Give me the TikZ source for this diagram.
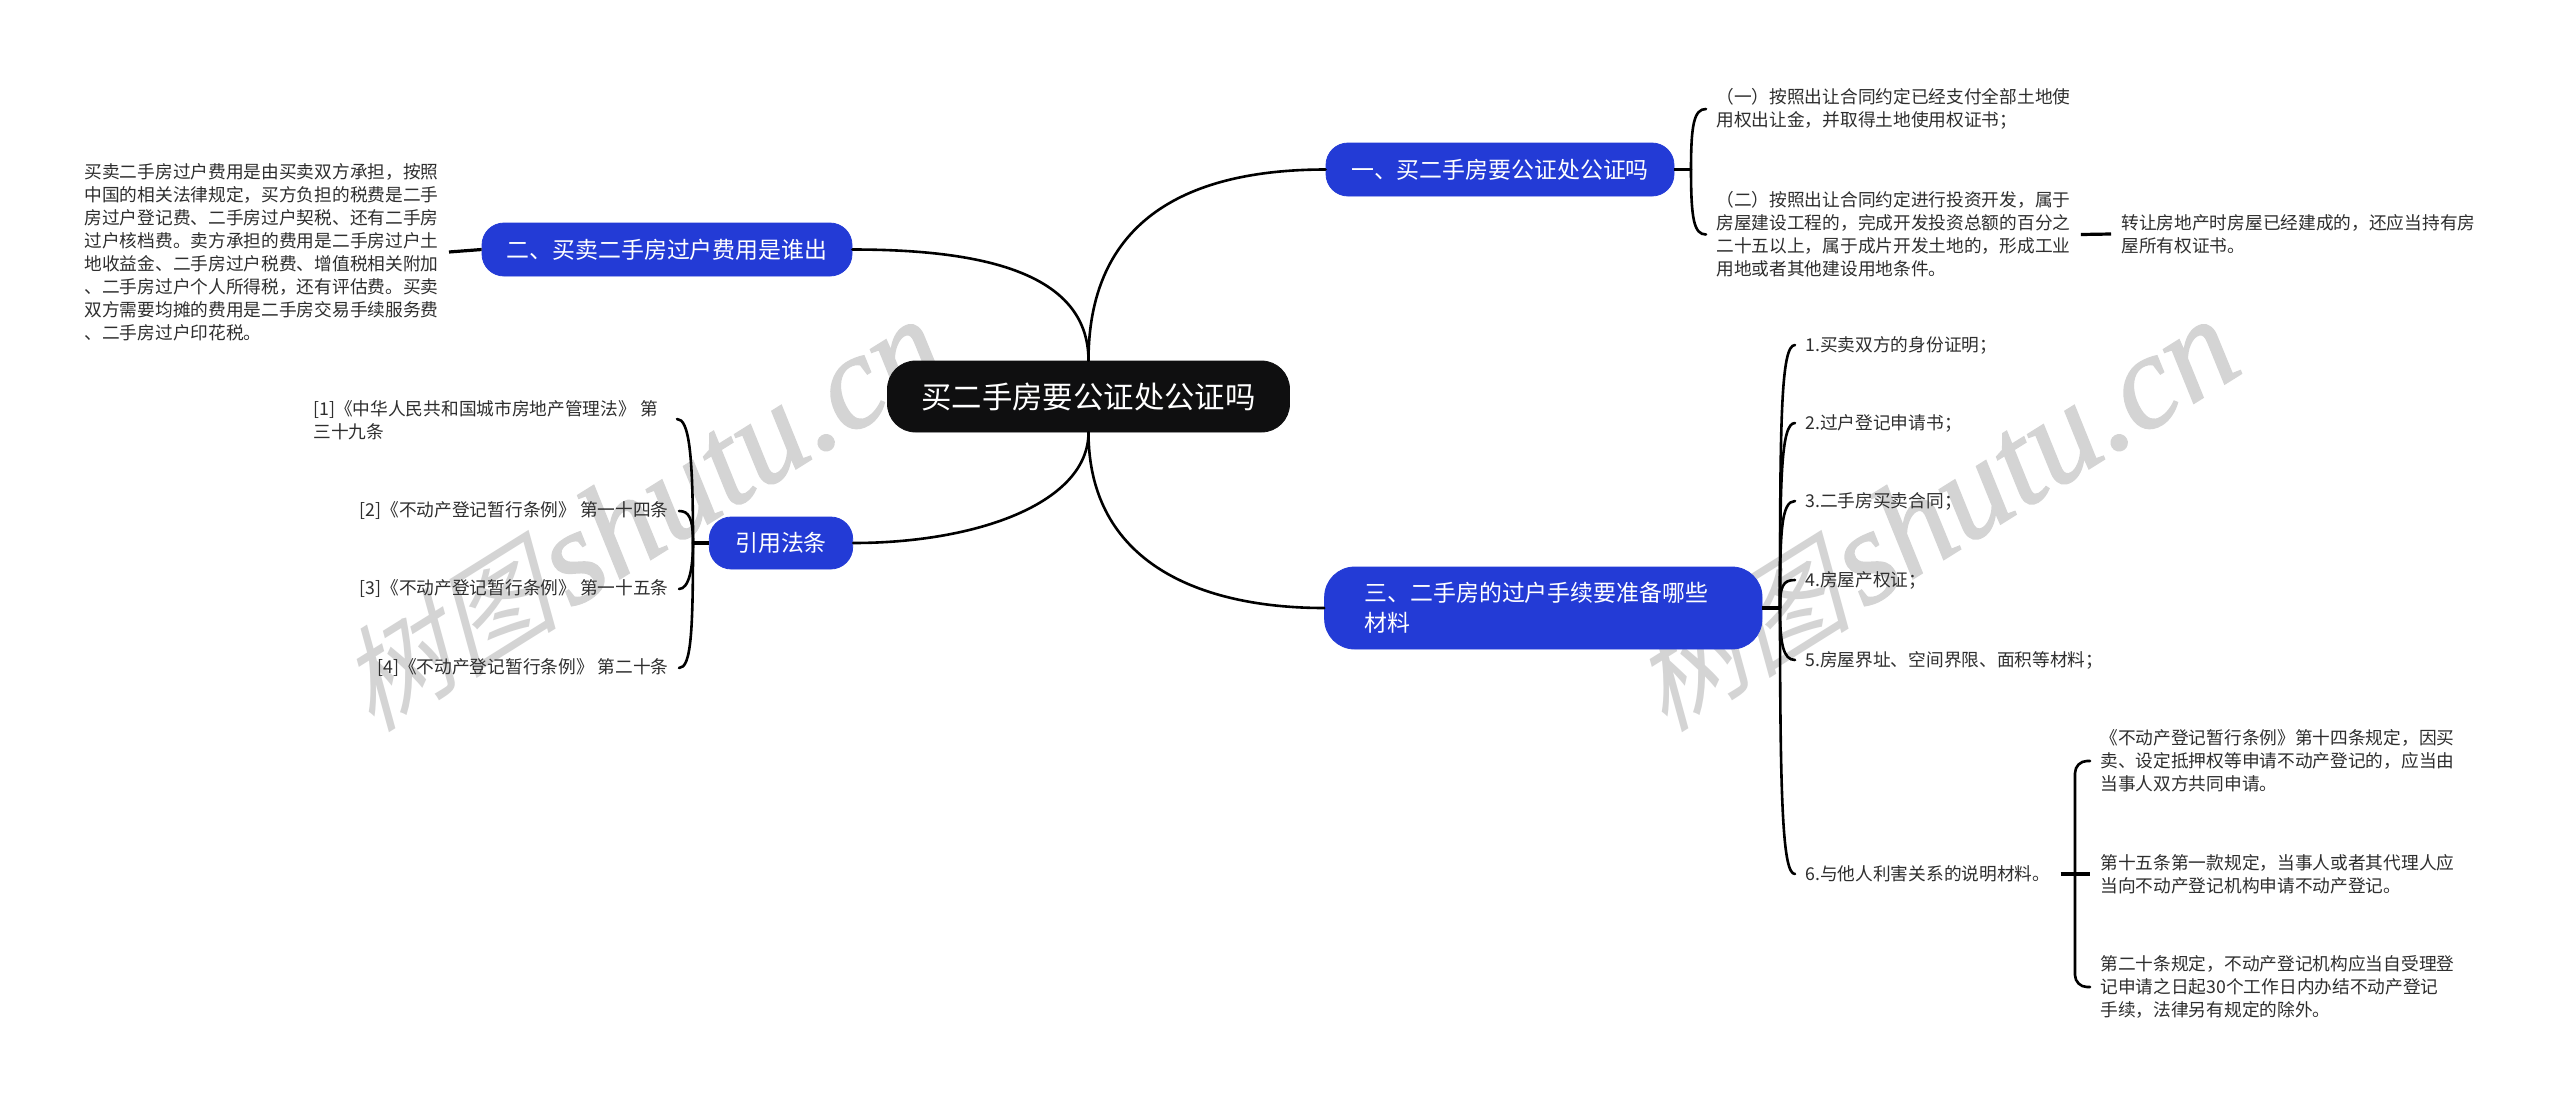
\documentclass[tikz,border=0pt]{standalone}
\usepackage{fontspec}
\setmainfont{Noto Sans CJK SC}
\newfontfamily\wmcjk[FakeSlant=0.3]{Noto Sans CJK SC}
\newfontfamily\wmlat[FakeBold=1.2]{Liberation Serif Italic}
\definecolor{nodeblue}{HTML}{233BD6}
\definecolor{rootblack}{HTML}{0F0F10}
\definecolor{leafgray}{HTML}{2E2E2E}
\definecolor{wmgray}{HTML}{D4D4D4}
\tikzset{
  mainbox/.style={fill=nodeblue,draw=nodeblue,line width=0.4pt,text=white,inner sep=0pt,font=\fontsize{11.45}{15}\selectfont},
  rootbox/.style={fill=rootblack,draw=rootblack,text=white,inner sep=0pt,rounded corners=14pt,minimum width=201pt,minimum height=35.5pt,font=\fontsize{15.2}{18}\selectfont},
  leaf/.style={inner xsep=5pt,inner ysep=0pt,text=leafgray,align=left,font=\fontsize{8.85}{11.5}\selectfont},
  leafl/.style={leaf,anchor=west},
  leafr/.style={leaf,anchor=east},
  link/.style={draw=black,line width=1.3pt,line cap=round},
  stub/.style={draw=black,line width=1.6pt},
  wm/.style={text=wmgray,rotate=32,inner sep=0pt}
}
\begin{document}
\begin{tikzpicture}[x=0.5pt,y=-0.5pt]
\useasboundingbox (0,0) rectangle (2560,1104);
\fill[white] (0,0) rectangle (2560,1104);
% watermarks
\node[wm] (wmA) at (640,516) {{\fontsize{56}{56}\selectfont\wmcjk 树图}\hspace{6pt}{\fontsize{67}{67}\selectfont\wmlat shutu.cn}};
\node[wm] (wmB) at (1933,516) {{\fontsize{56}{56}\selectfont\wmcjk 树图}\hspace{6pt}{\fontsize{67}{67}\selectfont\wmlat shutu.cn}};
% main nodes
\node[rootbox] (root) at (1088.5,396.5) {买二手房要公证处公证吗};
\node[mainbox,rounded corners=11pt,minimum width=174pt,minimum height=26.5pt] (n1) at (1500,169.5) {一、买二手房要公证处公证吗};
\node[mainbox,rounded corners=11pt,minimum width=185pt,minimum height=26.5pt] (n2) at (667,249.5) {二、买卖二手房过户费用是谁出};
\node[mainbox,rounded corners=15pt,minimum height=41pt,text width=178.7pt,inner xsep=20pt,align=left] (n3) at (1543.3,608) {三、二手房的过户手续要准备哪些\\材料};
\node[mainbox,rounded corners=11pt,minimum width=71.7pt,minimum height=26pt] (n4) at (781,543) {引用法条};
% leaves
\node[leafl] (a1) at (1706,109) {（一）按照出让合同约定已经支付全部土地使\\用权出让金，并取得土地使用权证书；};
\node[leafl] (a2) at (1706,234.5) {（二）按照出让合同约定进行投资开发，属于\\房屋建设工程的，完成开发投资总额的百分之\\二十五以上，属于成片开发土地的，形成工业\\用地或者其他建设用地条件。};
\node[leafl] (a3) at (2111,234) {转让房地产时房屋已经建成的，还应当持有房\\屋所有权证书。};
\node[leafl] (b1) at (1795,345) {1.买卖双方的身份证明；};
\node[leafl] (b2) at (1795,423) {2.过户登记申请书；};
\node[leafl] (b3) at (1795,501) {3.二手房买卖合同；};
\node[leafl] (b4) at (1795,580) {4.房屋产权证；};
\node[leafl] (b5) at (1795,660) {5.房屋界址、空间界限、面积等材料；};
\node[leafl] (b6) at (1795,874) {6.与他人利害关系的说明材料。};
\node[leafl] (c1) at (2090,761) {《不动产登记暂行条例》第十四条规定，因买\\卖、设定抵押权等申请不动产登记的，应当由\\当事人双方共同申请。};
\node[leafl] (c2) at (2090,874) {第十五条第一款规定，当事人或者其代理人应\\当向不动产登记机构申请不动产登记。};
\node[leafl] (c3) at (2090,987) {第二十条规定，不动产登记机构应当自受理登\\记申请之日起30个工作日内办结不动产登记\\手续，法律另有规定的除外。};
\node[leafr] (d1) at (449,252) {买卖二手房过户费用是由买卖双方承担，按照\\中国的相关法律规定，买方负担的税费是二手\\房过户登记费、二手房过户契税、还有二手房\\过户核档费。卖方承担的费用是二手房过户土\\地收益金、二手房过户税费、增值税相关附加\\、二手房过户个人所得税，还有评估费。买卖\\双方需要均摊的费用是二手房交易手续服务费\\、二手房过户印花税。};
\node[leaf,anchor=west] (e1) at (303,420) {[1]《中华人民共和国城市房地产管理法》 第\\三十九条};
\node[leafr] (e2) at (679,511) {[2]《不动产登记暂行条例》 第一十四条};
\node[leafr] (e3) at (679,589) {[3]《不动产登记暂行条例》 第一十五条};
\node[leafr] (e4) at (679,668) {[4]《不动产登记暂行条例》 第二十条};
% junctions
\coordinate (j1) at (1691,169.5);
\coordinate (j3) at (1780,608);
\coordinate (j6) at (2075,873);
\coordinate (j4) at (693,543);
\coordinate (e1end) at (677,419);
% root links
\draw[link] (root.north) .. controls +(0,-150) and +(-125,0) .. (n1.west);
\draw[link] (root.north) .. controls +(0,-90) and +(125,0) .. (n2.east);
\draw[link] (root.south) .. controls +(0,130) and +(-125,0) .. (n3.west);
\draw[link] (root.south) .. controls +(0,70) and +(125,0) .. (n4.east);
% branch 1
\draw[stub] (n1.east) -- (j1);
\draw[link] (j1) .. controls +(0,-45) and +(-12,0) .. (a1.west);
\draw[link] (j1) .. controls +(0,50) and +(-12,0) .. (a2.west);
\draw[stub] (a2.east) -- (a3.west);
% branch 3
\draw[stub] (n3.east) -- (j3);
\draw[link] (j3) .. controls +(0,-190) and +(-14,0) .. (b1.west);
\draw[link] (j3) .. controls +(0,-130) and +(-14,0) .. (b2.west);
\draw[link] (j3) .. controls +(0,-75) and +(-14,0) .. (b3.west);
\draw[link] (j3) .. controls +(0,-22) and +(-12,0) .. (b4.west);
\draw[link] (j3) .. controls +(0,35) and +(-12,0) .. (b5.west);
\draw[link] (j3) .. controls +(0,200) and +(-12,0) .. (b6.west);
\draw[stub] (b6.east) -- (c2.west);
\draw[link,rounded corners=6pt] (c1.west) -- (j6 |- c1.west) -- (j6 |- c3.west) -- (c3.west);
% left
\draw[stub] (n2.west) -- (d1.east);
\draw[stub] (n4.west) -- (j4);
\draw[link] (j4) .. controls +(0,-90) and +(12,0) .. (e1end);
\draw[link] (j4) .. controls +(0,-25) and +(10,0) .. (e2.east);
\draw[link] (j4) .. controls +(0,25) and +(10,0) .. (e3.east);
\draw[link] (j4) .. controls +(0,90) and +(12,0) .. (e4.east);
\end{tikzpicture}
\end{document}
